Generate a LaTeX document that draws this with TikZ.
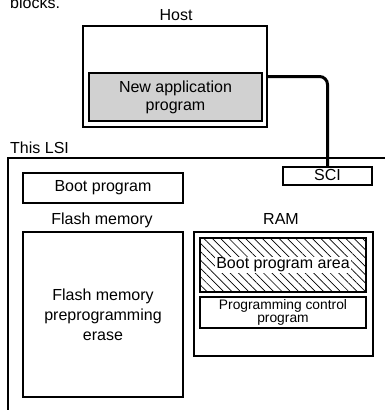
\documentclass[tikz,border=0pt]{standalone}
\usepackage{fontspec}
\setmainfont{Liberation Sans}
\usetikzlibrary{patterns.meta}

\tikzset{
  blk/.style={draw, line width=1.6pt, inner sep=0pt, align=center},
  thin blk/.style={draw, line width=1.2pt, inner sep=0pt, align=center},
  lbl/.style={inner sep=0pt, anchor=base},
  link/.style={line width=3pt, rounded corners=8pt}
}

\begin{document}
\begin{tikzpicture}[x=1pt, y=-1pt, font=\fontsize{16}{19}\selectfont]
\useasboundingbox (0,0) rectangle (384,410);

% caption text cut at the top
\node[lbl, anchor=base west] (cap) at (10,8) {blocks.};

% ------------------------------------------------------------
% Host
\node[lbl] (hostlbl) at (176,20) {Host};
\node[thin blk, minimum width=184pt, minimum height=101pt] (host) at (175,76.5) {};
\node[blk, line width=2.2pt, fill=black!18, minimum width=173pt, minimum height=48pt,
  font=\fontsize{16}{18}\selectfont] (app) at (175.5,97) {New application\\program};

% ------------------------------------------------------------
% This LSI
\draw[line width=1.6pt] (395,158) -- (8,158) -- (8,420);
\node[lbl, anchor=base west] (lsilbl) at (10,153) {This LSI};

\node[blk, line width=1.8pt, minimum width=89pt, minimum height=18pt] (sci) at (327.5,176) {\raisebox{1.5pt}{SCI}};
\node[blk, minimum width=160pt, minimum height=30pt] (boot) at (103,188) {Boot program};

% Flash memory
\node[lbl] (flashlbl) at (102,224) {Flash memory};
\node[blk, minimum width=160pt, minimum height=165pt,
  font=\fontsize{16}{20}\selectfont] (flash) at (103,314.5)
  {Flash memory\\preprogramming\\erase};

% RAM
\node[lbl] (ramlbl) at (281,224) {RAM};
\node[blk, minimum width=179pt, minimum height=124pt] (ram) at (283.5,294) {};
\node[blk, line width=2pt, minimum width=166pt, minimum height=54pt,
  pattern={Lines[angle=-45, distance=5.9pt, line width=0.7pt]}] (area) at (283,265) {};
\node[fill=white, inner sep=1pt] (arealbl) at (area) {Boot program area};
\node[blk, line width=2pt, minimum width=166pt, minimum height=31pt,
  font=\fontsize{13.8}{13}\selectfont] (ctrl) at (283,312.5)
  {Programming control\\program};

% host to SCI
\draw[link] (host.east) -| (sci.north);

\end{tikzpicture}
\end{document}
